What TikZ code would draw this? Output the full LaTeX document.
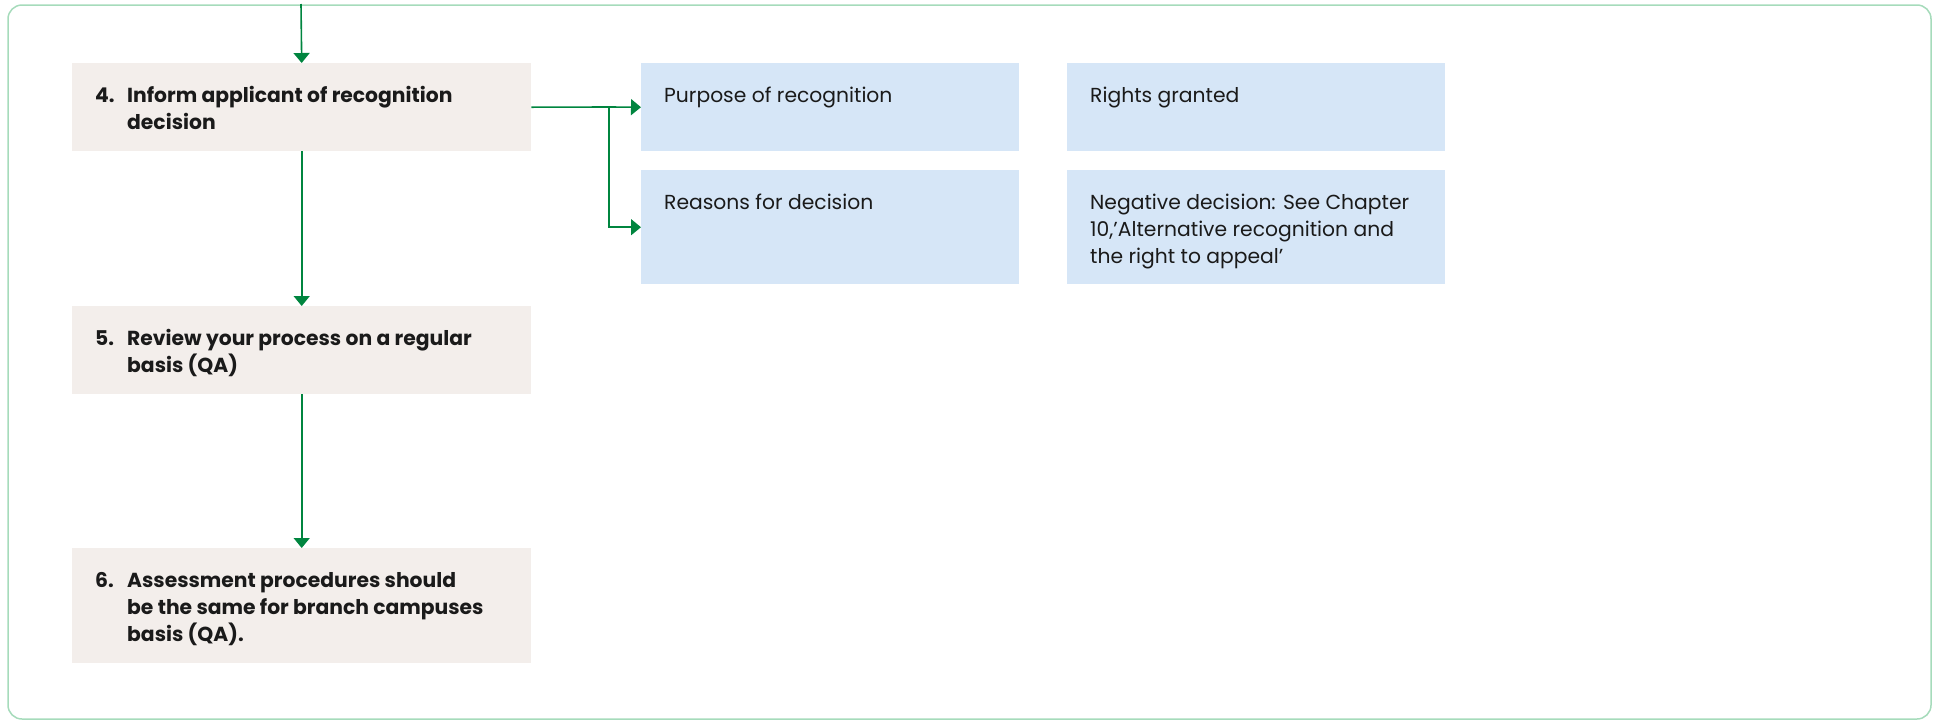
\documentclass[tikz,border=0pt]{standalone}
\usepackage{fontspec}
\setmainfont{Poppins}
\usetikzlibrary{arrows.meta}

\definecolor{framegreen}{HTML}{A6DBBB}
\definecolor{flowgreen}{HTML}{00853F}
\definecolor{stepfill}{HTML}{F3EEEB}
\definecolor{notefill}{HTML}{D6E6F7}
\definecolor{inkcol}{HTML}{1A1A1A}

\tikzset{
  stepbox/.style={fill=stepfill, draw=none, anchor=north west, inner sep=0,
    minimum width=459pt},
  notebox/.style={fill=notefill, draw=none, anchor=north west, inner sep=0,
    minimum width=378pt},
  steptext/.style={anchor=base west, inner sep=0, text=inkcol,
    font=\fontsize{20.3}{27}\selectfont\bfseries},
  notetext/.style={anchor=base west, inner sep=0, text=inkcol,
    font=\fontsize{20.3}{27}\selectfont},
  flow/.style={draw=flowgreen, line width=1.6pt,
    -{Triangle[width=16pt,length=10pt]}},
  link/.style={draw=flowgreen, line width=1.6pt},
}

\newcommand{\steplist}[2]{%
  \begin{tabular}[t]{@{}p{32pt}@{}l@{}}#1&#2\end{tabular}}
\newcommand{\notelines}[1]{%
  \begin{tabular}[t]{@{}l@{}}#1\end{tabular}}

\begin{document}
\begin{tikzpicture}[x=1pt, y=-1pt]
  \useasboundingbox (0,0) rectangle (1937,721);

  % outer frame
  \draw[framegreen, line width=1.5pt, rounded corners=14pt]
    (8,5) rectangle (1931,719);

  % process steps
  \node[stepbox, minimum height=88pt]  (s4) at (72,63)  {};
  \node[stepbox, minimum height=88pt]  (s5) at (72,306) {};
  \node[stepbox, minimum height=115pt] (s6) at (72,548) {};

  \node[steptext] (t4) at ([shift={(23,39)}]s4.north west)
    {\steplist{4.}{Inform applicant of recognition\\&decision}};
  \node[steptext] (t5) at ([shift={(23,39)}]s5.north west)
    {\steplist{5.}{Review your process on a regular\\&basis (QA)}};
  \node[steptext] (t6) at ([shift={(23,39)}]s6.north west)
    {\steplist{6.}{Assessment procedures should\\&be the same for branch campuses\\&basis (QA).}};

  % decision notes
  \node[notebox, minimum height=88pt]  (purpose) at (641,63)   {};
  \node[notebox, minimum height=88pt]  (rights)  at (1067,63)  {};
  \node[notebox, minimum height=114pt] (reasons) at (641,170)  {};
  \node[notebox, minimum height=114pt] (negative) at (1067,170) {};

  \node[notetext] (tp) at ([shift={(23,39)}]purpose.north west)
    {Purpose of recognition};
  \node[notetext] (tr) at ([shift={(23,39)}]rights.north west)
    {Rights granted};
  \node[notetext] (tq) at ([shift={(23,39)}]reasons.north west)
    {Reasons for decision};
  \node[notetext] (tn) at ([shift={(23,39)}]negative.north west)
    {\notelines{Negative decision: See Chapter\\10,’Alternative recognition and\\the right to appeal’}};

  % connectors
  \coordinate (entry) at (301,4);
  \coordinate (split) at (609,107);
  \draw[flow] (entry) -- (s4.north);
  \draw[flow] (s4.south) -- (s5.north);
  \draw[flow] (s5.south) -- (s6.north);
  \draw[link] (s4.east) -- (split);
  \draw[flow] (split) -- (purpose.west);
  \draw[flow] (split) |- (reasons.west);
\end{tikzpicture}
\end{document}
